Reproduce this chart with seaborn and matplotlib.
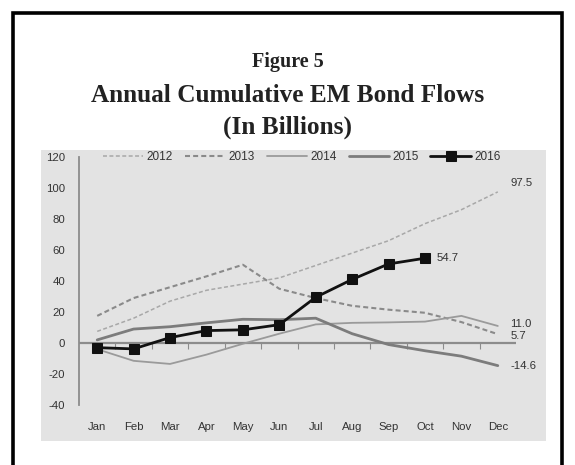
import numpy as np
import pandas as pd
import matplotlib
matplotlib.use("Agg")
import matplotlib.pyplot as plt
import seaborn as sns
from matplotlib.patches import Rectangle

months = ["Jan", "Feb", "Mar", "Apr", "May", "Jun", "Jul", "Aug", "Sep", "Oct", "Nov", "Dec"]

flows_2012 = [7.5, 16, 27, 34, 38, 42, 50, 58, 66, 77, 86, 97.5]
flows_2013 = [17.5, 29, 36, 43, 50.5, 35, 29, 24, 21.5, 19.5, 13.5, 5.7]
flows_2014 = [-4, -11.5, -13.5, -7.5, -0.5, 6, 12, 13, 13.3, 13.8, 17.5, 11.0]
flows_2015 = [2, 9, 10.5, 13, 15.3, 15, 16, 6, -1, -5, -8.5, -14.6]
flows_2016 = [-3, -3.8, 3.5, 8, 8.5, 11.8, 29.5, 41, 51, 54.7]

end_labels = {"2012": "97.5", "2013": "5.7", "2014": "11.0", "2015": "-14.6", "2016": "54.7"}

series = {
    "2012": flows_2012,
    "2013": flows_2013,
    "2014": flows_2014,
    "2015": flows_2015,
    "2016": flows_2016,
}

rows = []
for year, vals in series.items():
    for i, v in enumerate(vals):
        rows.append({"year": year, "pos": i, "month": months[i], "value": v})
df = pd.DataFrame(rows)

sns.set_style("white")
plt.rcParams["font.family"] = ["Liberation Sans", "DejaVu Sans"]
plt.rcParams["axes.unicode_minus"] = False

W, H = 575, 465
fig = plt.figure(figsize=(W / 100, H / 100), dpi=100)

# outer frame + grey panel
fig.patches.append(Rectangle((13 / W, -0.05), 549 / W, 1.05 - 13 / H, transform=fig.transFigure,
                             fill=False, edgecolor="black", linewidth=2.6, zorder=-2))
fig.patches.append(Rectangle((41 / W, (H - 441) / H), 505 / W, 291 / H, transform=fig.transFigure,
                             facecolor="#e3e3e3", edgecolor="none", zorder=-2))

tfont = ["Liberation Serif", "DejaVu Serif"]
fig.text(0.5, 1 - 62 / H, "Figure 5", ha="center", va="center", fontsize=14.5,
         fontweight="bold", family=tfont, color="#222222")
fig.text(0.5, 1 - 96 / H, "Annual Cumulative EM Bond Flows", ha="center", va="center",
         fontsize=18.2, fontweight="bold", family=tfont, color="#222222")
fig.text(0.5, 1 - 127 / H, "(In Billions)", ha="center", va="center", fontsize=18.2,
         fontweight="bold", family=tfont, color="#222222")

ax = fig.add_axes([79 / W, (H - 405) / H, (516 - 79) / W, (405 - 157) / H])
ax.set_facecolor("none")
ax.set_zorder(2)

styles = {
    "2012": dict(color="#a8a8a8", linewidth=1.1, dashes=(2.6, 1.6)),
    "2013": dict(color="#8a8a8a", linewidth=1.5, dashes=(2.4, 1.5)),
    "2014": dict(color="#9a9a9a", linewidth=1.3),
    "2015": dict(color="#7c7c7c", linewidth=2.0),
    "2016": dict(color="#111111", linewidth=2.0, marker="s", markersize=6.5,
                 markerfacecolor="#111111", markeredgecolor="#111111"),
}

for year in series:
    d = df[df["year"] == year]
    sns.lineplot(data=d, x="pos", y="value", ax=ax, label=year, **styles[year])
    last = d.iloc[-1]
    dx = 0.33 if year == "2016" else 0.35
    dy = {"2012": 6, "2014": 1.5, "2013": -1}.get(year, 0)
    ax.text(last["pos"] + dx, last["value"] + dy, end_labels[year], ha="left", va="center",
            fontsize=8.2, color="#333333")

ax.axhline(0, color="#8c8c8c", linewidth=1.6, zorder=1)

ax.set_xlim(-0.5, len(months) - 0.5)
ax.set_ylim(-40, 120)
ax.set_yticks(np.arange(-40, 121, 20))
ax.set_xticks(range(len(months)))
ax.set_xticklabels(months)
ax.tick_params(axis="x", length=0, pad=12, labelsize=8.2, labelcolor="#333333")
ax.tick_params(axis="y", length=4, width=1, color="#8c8c8c", labelsize=8.2, labelcolor="#333333", pad=6)
ax.set_xlabel("")
ax.set_ylabel("")

for s in ["top", "right", "bottom"]:
    ax.spines[s].set_visible(False)
ax.spines["left"].set_color("#8c8c8c")
ax.spines["left"].set_linewidth(1.3)

# tick marks along the zero line between months
zero_ax = ax.secondary_xaxis(0.25)
zero_ax.set_xticks(np.arange(0.5, len(months) - 0.5, 1))
zero_ax.tick_params(axis="x", direction="out", length=4, color="#8c8c8c", labelbottom=False,
                    labeltop=False, bottom=True, top=False)
zero_ax.spines["bottom"].set_visible(False)
zero_ax.spines["top"].set_visible(False)

leg = ax.legend(loc="center", bbox_to_anchor=(0.51, 1.0), ncol=5, frameon=False, fontsize=8.5,
                handlelength=3.4, handletextpad=0.3, columnspacing=1.0)
for t in leg.get_texts():
    t.set_color("#333333")

fig.savefig("out.png", dpi=100)
